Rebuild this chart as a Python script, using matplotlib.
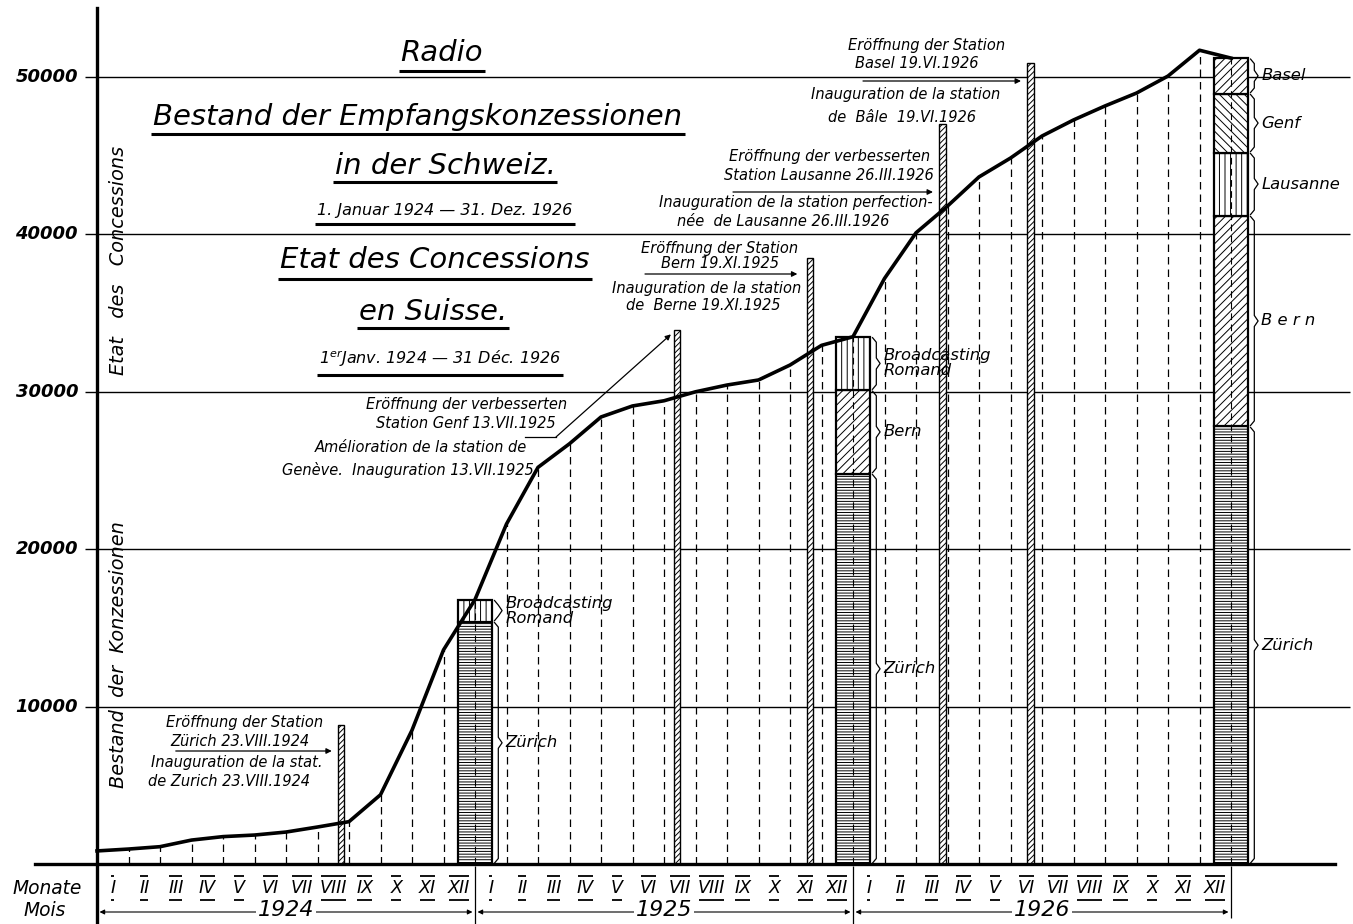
import numpy as np
import matplotlib
matplotlib.use('Agg')
import matplotlib.pyplot as plt
from matplotlib import font_manager

# Bestand der Empfangskonzessionen am Monatsende (Index 0 = 1. Jan. 1924)
conc_1924 = [830, 950, 1100, 1520, 1740, 1840, 2030, 2350, 2690, 4400, 8500, 13600, 16800]
conc_1925 = [21600, 25200, 26700, 28400, 29100, 29430, 30000, 30430, 30750, 31700, 32950, 33500]
conc_1926 = [37200, 40100, 41800, 43650, 44850, 46250, 47270, 48160, 48980, 50060, 51700, 51200]

years = ['1924', '1925', '1926']
numerals = ['I', 'II', 'III', 'IV', 'V', 'VI', 'VII', 'VIII', 'IX', 'X', 'XI', 'XII']
yticks = [10000, 20000, 30000, 40000, 50000]

# Aufteilung nach Sendern am Jahresende
seg_1924 = ['Zürich', 'Broadcasting\nRomand']
val_1924 = [15400, 1400]
seg_1925 = ['Zürich', 'Bern', 'Broadcasting\nRomand']
val_1925 = [24800, 5300, 3400]
seg_1926 = ['Zürich', 'Bern', 'Lausanne', 'Genf', 'Basel']
val_1926 = [27800, 13400, 4000, 3750, 2250]

# Eröffnung der Stationen
st_names = ['Zürich', 'Genf', 'Bern', 'Lausanne', 'Basel']
st_month = [7, 18, 22, 26, 29]   # Monatsindex ab Jan. 1924
st_day = [23, 13, 19, 26, 19]
st_mdays = [31, 31, 30, 31, 30]
st_height = [8830, 33900, 38500, 47000, 50900]

hatches = {'Zürich': '------', 'Broadcasting\nRomand': '|||', 'Bern': '////',
           'Lausanne': '|||', 'Genf': '\\\\\\\\', 'Basel': '////'}

# --- Layout: Pixel -> Daten ---
W, H = 1353, 924
PPM = 31.5            # px pro Monat
PPU = 15.74 / 1000    # px pro Konzession
X0, Y0 = 97, 864


def dx(px):
    return (px - X0) / PPM


def dy(py):
    return (Y0 - py) / PPU


names = {f.name for f in font_manager.fontManager.ttflist}
HAVE_NARROW = 'Liberation Sans Narrow' in names
NARROW = 'Liberation Sans Narrow' if HAVE_NARROW else 'DejaVu Sans'
WIDE = 'DejaVu Sans'


def fs(n):
    return n if HAVE_NARROW else n * 0.84


plt.rcParams['hatch.linewidth'] = 0.7

fig = plt.figure(figsize=(W / 100, H / 100), dpi=100)
ax = fig.add_axes([0, 0, 1, 1])
ax.set_xlim(dx(0), dx(W))
ax.set_ylim(dy(H), dy(0))
ax.axis('off')

K = 'black'


def note(xp, yp, s, size=12.5, ha='center', **kw):
    return ax.text(dx(xp), dy(yp), s, ha=ha, va='center', fontsize=fs(size),
                   style='italic', family=NARROW, color=K, **kw)


# Gitter, Achsen
ax.hlines(yticks, dx(85), dx(1350), color=K, lw=1.0, zorder=1)
ax.plot([dx(35), dx(1335)], [0, 0], color=K, lw=2.4, zorder=6)
ax.plot([0, 0], [dy(H), dy(8)], color=K, lw=2.4, zorder=6)
for v in yticks:
    ax.text(dx(78), v, str(v), ha='right', va='center', fontsize=13,
            weight='bold', style='italic', family=WIDE, color=K)

ax.text(dx(119), dy(655), 'Bestand  der  Konzessionen', rotation=90, ha='center', va='center',
        fontsize=fs(16.5), style='italic', family=NARROW, color=K)
ax.text(dx(119), dy(260), 'Etat   des   Concessions', rotation=90, ha='center', va='center',
        fontsize=fs(16.5), style='italic', family=NARROW, color=K)

# Kurve
values = np.array(conc_1924 + conc_1925 + conc_1926)
months = np.arange(len(values))
ax.vlines(months[1:], 0, values[1:], colors=K, lw=0.9, linestyles=(0, (6, 4)), zorder=1)
ax.plot(months, values, color=K, lw=2.6, zorder=7, solid_joinstyle='round')

# Stationen (schmale Säulen)
st_x = np.array(st_month) + np.array(st_day) / np.array(st_mdays)
ax.bar(st_x, st_height, width=0.2, color='white', edgecolor=K, hatch='//////', lw=1.0, zorder=4)


def brace(x, y0, y1):
    d = 0.12
    e = min(350, (y1 - y0) / 4)
    ym = (y0 + y1) / 2
    xs = [x, x + d, x + d, x + 2 * d, x + d, x + d, x]
    ys = [y0 + 60, y0 + e, ym - e, ym, ym + e, y1 - e, y1 - 60]
    ax.plot(xs, ys, color=K, lw=0.9, zorder=5)


# Jahressäulen
bar_w = 1.08
for pos, segs, vals in zip([12, 24, 36], [seg_1924, seg_1925, seg_1926],
                           [val_1924, val_1925, val_1926]):
    bottom = 0
    for s, v in zip(segs, vals):
        ax.bar(pos, v, bottom=bottom, width=bar_w, color='white', edgecolor=K,
               hatch=hatches[s], lw=1.6, zorder=3)
        brace(pos + bar_w / 2 + 0.08, bottom, bottom + v)
        lab = 'B e r n' if (s == 'Bern' and pos == 36) else s
        ax.text(pos + bar_w / 2 + 0.42, bottom + v / 2, lab, ha='left', va='center',
                fontsize=fs(14), style='italic', family=NARROW, color=K, zorder=6,
                linespacing=1.0)
        bottom += v
    ax.vlines(pos, 0, bottom, colors=K, lw=0.8, linestyles=(0, (6, 4)), zorder=3.5)

# Monate und Jahre
month_texts = []
for k in range(36):
    month_texts.append(ax.text(k + 0.5, dy(888), numerals[k % 12], ha='center', va='center',
                               fontsize=fs(15), style='italic', family=NARROW, color=K))
note(47, 889, 'Monate', size=16)
note(45, 911, 'Mois', size=16)
ax.vlines([12, 24], dy(866), dy(H), colors=K, lw=0.9)
ax.vlines([36], dy(866), dy(918), colors=K, lw=0.9)
for i, yr in enumerate(years):
    ax.annotate('', xy=(12 * i + 0.08, dy(912)), xytext=(12 * (i + 1) - 0.08, dy(912)),
                arrowprops=dict(arrowstyle='<|-|>', lw=0.8, color=K, mutation_scale=7,
                                shrinkA=0, shrinkB=0))
    ax.text(12 * i + 6, dy(910), yr, ha='center', va='center', fontsize=fs(19),
            style='italic', family=NARROW, color=K,
            bbox=dict(facecolor='white', edgecolor='none', pad=1))

# Titel
titles = [
    ('Radio', 442, 53, 21, WIDE, 71),
    ('Bestand der Empfangskonzessionen', 418, 117, 21, WIDE, 134),
    ('in der Schweiz.', 445, 166, 21, WIDE, 182),
    ('1. Januar 1924 — 31. Dez. 1926', 445, 211, 11.5, WIDE, 224),
    ('Etat des Concessions', 435, 260, 21, WIDE, 279),
    ('en Suisse.', 433, 312, 21, WIDE, 328),
    ('1$^{er}$Janv. 1924 — 31 Déc. 1926', 440, 359, 11.5, WIDE, 375),
]
title_texts = []
for s, xp, yp, size, fam, uy in titles:
    t = ax.text(dx(xp), dy(yp), s, ha='center', va='center', fontsize=size,
                style='italic', family=fam, color=K)
    title_texts.append((t, uy))

# Anmerkungen zu den Stationen
z, g, b, l, bs = range(5)
note(245, 722, 'Eröffnung der Station')
note(240, 741, 'Zürich 23.VIII.1924')
note(237, 763, 'Inauguration de la stat.')
note(229, 781, 'de Zurich 23.VIII.1924')
ax.annotate('', xy=(st_x[z] - 0.2, dy(751)), xytext=(dx(173), dy(751)),
            arrowprops=dict(arrowstyle='-|>', lw=0.9, color=K, mutation_scale=8))

note(567, 405, 'Eröffnung der verbesserten', ha='right')
note(556, 423, 'Station Genf 13.VII.1925', ha='right')
note(421, 448, 'Amélioration de la station de')
note(408, 470, 'Genève.  Inauguration 13.VII.1925')
ax.plot([dx(525), dx(556)], [dy(437), dy(437)], color=K, lw=0.9)
ax.annotate('', xy=(st_x[g] - 0.2, st_height[g] - 250), xytext=(dx(556), dy(437)),
            arrowprops=dict(arrowstyle='-|>', lw=0.9, color=K, mutation_scale=8,
                            shrinkA=0, shrinkB=0))

note(720, 248, 'Eröffnung der Station')
note(720, 264, 'Bern 19.XI.1925')
note(707, 289, 'Inauguration de la station')
note(703, 306, 'de  Berne 19.XI.1925')
ax.annotate('', xy=(st_x[b] - 0.4, dy(274)), xytext=(dx(645), dy(274)),
            arrowprops=dict(arrowstyle='-|>', lw=0.9, color=K, mutation_scale=8,
                            shrinkA=0, shrinkB=0))

note(830, 157, 'Eröffnung der verbesserten')
note(829, 176, 'Station Lausanne 26.III.1926')
note(796, 203, 'Inauguration de la station perfection-')
note(783, 222, 'née  de Lausanne 26.III.1926')
ax.annotate('', xy=(st_x[l] - 0.3, dy(192)), xytext=(dx(733), dy(192)),
            arrowprops=dict(arrowstyle='-|>', lw=0.9, color=K, mutation_scale=8,
                            shrinkA=0, shrinkB=0))

note(927, 45, 'Eröffnung der Station')
note(917, 64, 'Basel 19.VI.1926')
note(906, 95, 'Inauguration de la station')
note(902, 117, 'de  Bâle  19.VI.1926')
ax.annotate('', xy=(st_x[bs] - 0.3, dy(81)), xytext=(dx(863), dy(81)),
            arrowprops=dict(arrowstyle='-|>', lw=0.9, color=K, mutation_scale=8,
                            shrinkA=0, shrinkB=0))

# Unter- und Überstriche nach Textgrösse
fig.canvas.draw()
r = fig.canvas.get_renderer()
for t, uy in title_texts:
    bb = t.get_window_extent(r)
    ax.plot([dx(bb.x0 - 2), dx(bb.x1 + 2)], [dy(uy), dy(uy)], color=K, lw=2.2,
            solid_capstyle='butt')
for t in month_texts:
    bb = t.get_window_extent(r)
    for yy in (876, 900):
        ax.plot([dx(bb.x0 + 1), dx(bb.x1 - 1)], [dy(yy), dy(yy)], color=K, lw=1.3,
                solid_capstyle='butt')

fig.savefig('out.png', dpi=100)
